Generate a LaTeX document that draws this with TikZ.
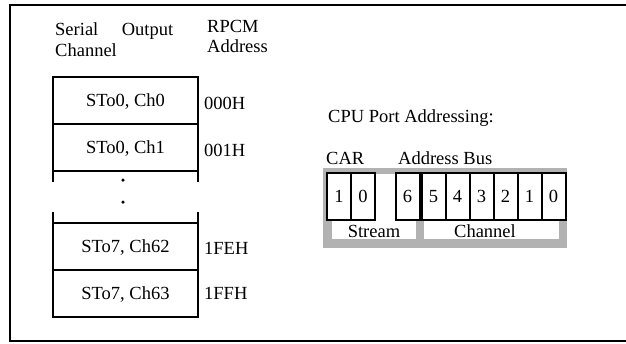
\documentclass[tikz,border=0pt]{standalone}
\usepackage{fontspec}
\setmainfont{Liberation Serif}
\usetikzlibrary{positioning}
\definecolor{bandgray}{gray}{0.70}

\begin{document}
\begin{tikzpicture}[x=1pt, y=-1pt, font=\fontsize{18.5}{20.5}\selectfont]

\tikzstyle{row}=[draw, line width=2.5pt, minimum width=145pt, minimum height=47pt, inner sep=0pt, outer sep=0pt, text height=12.5pt, text depth=0pt]
\tikzstyle{addr}=[anchor=west, inner sep=0pt, text height=12.5pt, text depth=0pt]
\tikzstyle{bit}=[draw, fill=white, line width=2pt, minimum width=24pt, minimum height=47pt, inner sep=0pt, outer sep=0pt, text height=12.5pt, text depth=0pt]
\tikzstyle{field}=[inner sep=0pt, text height=12.5pt, text depth=0pt]
\tikzstyle{dot}=[circle, fill, inner sep=0pt, minimum size=3.5pt]

\useasboundingbox (0,0) rectangle (626,343);
\draw [line width=2pt] (10,5) rectangle (627,341);

% memory column
\node (head) [anchor=north west, text width=118pt, align=left, inner sep=0pt] at (55,22.5) {Serial\hfill Output\\Channel};
\node (rpcm) [anchor=north west, align=left, inner sep=0pt] at (207,20) {RPCM\\Address};

\node (row0) [row] at (125.5,100.5) {STo0, Ch0};
\node (row1) [row, below=0pt of row0] {STo0, Ch1};
\node (row62) [row] at (125.5,246.5) {STo7, Ch62};
\node (row63) [row, below=0pt of row62] {STo7, Ch63};

\draw [line width=2.5pt] (row1.south west) -- ++(0,11);
\draw [line width=2.5pt] (row1.south east) -- ++(0,11);
\draw [line width=2.5pt] (row62.north west) -- ++(0,-11);
\draw [line width=2.5pt] (row62.north east) -- ++(0,-11);
\node (dotA) [dot] at (123,180) {};
\node (dotB) [dot] at (123,202) {};

\node (a0) [addr] at (204,103) {000H};
\node (a1) [addr] at (204,150) {001H};
\node (a62) [addr] at (204,248) {1FEH};
\node (a63) [addr] at (204,293) {1FFH};

% port addressing
\node (cpu) [anchor=base west, inner sep=0pt] at (328,122) {CPU Port Addressing:};
\node (car) [anchor=base west, inner sep=0pt] at (326,164) {CAR};
\node (bus) [anchor=base west, inner sep=0pt] at (398,164) {Address Bus};

\fill [bandgray] (323,168) rectangle (567,248);
\fill [white] (332,174) rectangle (416,239);
\fill [white] (424,174) rectangle (559,239);

\node (c1) [bit] at (339,196.5) {1};
\node (c0) [bit, right=0pt of c1] {0};
\node (b6) [bit] at (407.5,196.5) {6};
\node (b5) [bit, right=2pt of b6] {5};
\node (b4) [bit, right=0pt of b5] {4};
\node (b3) [bit, right=0pt of b4] {3};
\node (b2) [bit, right=0pt of b3] {2};
\node (b1) [bit, right=0pt of b2] {1};
\node (b0) [bit, right=0pt of b1] {0};

\node (stream) [field] at (374,231) {Stream};
\node (chan) [field] at (485,231) {Channel};

\end{tikzpicture}
\end{document}
